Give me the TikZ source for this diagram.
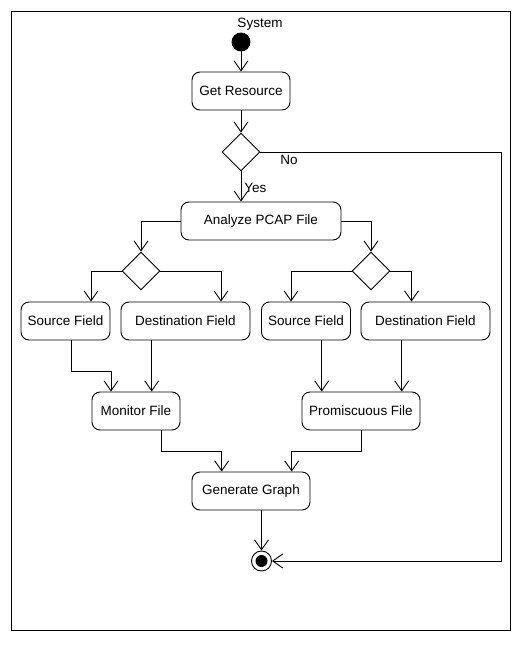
\documentclass[tikz,border=0pt]{standalone}
\usepackage{fontspec}
\setmainfont{Liberation Sans}
\usetikzlibrary{arrows.meta,shapes.geometric}
\begin{document}
\begin{tikzpicture}[x=1pt,y=-1pt,line width=0.9pt,
  font=\fontsize{13.5}{15}\selectfont,
  act/.style={draw,rounded corners=8pt,minimum height=38pt,inner sep=0pt},
  dec/.style={draw,diamond,minimum width=38pt,minimum height=38pt,inner sep=0pt},
  arr/.style={-{Straight Barb[length=10pt,width=14pt]}},
  lbl/.style={inner sep=0pt}]
\useasboundingbox (0,0) rectangle (527,645);
\draw (11,11) rectangle (510,630);
\node[lbl] (sys) at (260,24) {System};
\node[draw,circle,fill=black,minimum size=18pt,inner sep=0pt] (init) at (241,42) {};
\node[act,minimum width=98pt] (gr) at (241,91) {Get Resource};
\node[dec] (d1) at (241,152) {};
\node[act,minimum width=160pt] (an) at (261,221) {Analyze PCAP File};
\node[dec] (d2) at (141,271) {};
\node[dec] (d3) at (371,271) {};
\node[act,minimum width=89pt] (sf1) at (65.5,321) {Source Field};
\node[act,minimum width=129pt] (df1) at (185.5,321) {Destination Field};
\node[act,minimum width=89pt] (sf2) at (306,321) {Source Field};
\node[act,minimum width=129pt] (df2) at (425.5,321) {Destination Field};
\node[act,minimum width=88pt] (mf) at (136,411) {Monitor File};
\node[act,minimum width=118pt] (pf) at (361,411) {Promiscuous File};
\node[act,minimum width=118pt] (gg) at (251,491) {Generate Graph};
\node[draw,circle,minimum size=20pt,inner sep=0pt] (fin) at (261.5,561) {};
\node[circle,fill=black,minimum size=12pt,inner sep=0pt] (finin) at (fin) {};
\coordinate (rt) at (501,0);
\coordinate (r1) at (0,371.7);
\coordinate (r2) at (0,451);
\node[lbl,anchor=west] (yes) at (244,188) {Yes};
\node[lbl,anchor=west] (no) at (280,160) {No};
\draw[arr] (init) -- (gr);
\draw[arr] (gr) -- (d1);
\draw[arr] (d1.south) -- (d1.south |- an.north);
\draw[arr] (d1.east) -| (rt |- fin.east) -- (fin.east);
\draw[arr] (an.west) -| (d2.north);
\draw[arr] (an.east) -| (d3.north);
\draw[arr] (d2.west) -| ([xshift=25.5]sf1.north);
\draw[arr] (d2.east) -| ([xshift=35.5]df1.north);
\draw[arr] (d3.west) -| ([xshift=-15]sf2.north);
\draw[arr] (d3.east) -| ([xshift=-14]df2.north);
\draw[arr] ([xshift=6]sf1.south) coordinate (a1) -- (a1 |- r1) -| ([xshift=-25]mf.north);
\draw[arr] ([xshift=-33.8]df1.south) coordinate (a2) -- (a2 |- mf.north);
\draw[arr] ([xshift=15.7]sf2.south) coordinate (a3) -- (a3 |- pf.north);
\draw[arr] ([xshift=-23.8]df2.south) coordinate (a4) -- (a4 |- pf.north);
\draw[arr] ([xshift=25.7]mf.south) coordinate (a5) -- (a5 |- r2) -| ([xshift=-29.3]gg.north);
\draw[arr] ([xshift=0.7]pf.south) coordinate (a6) -- (a6 |- r2) -| ([xshift=40.7]gg.north);
\draw[arr] ([xshift=10.5]gg.south) -- (fin.north);
\end{tikzpicture}
\end{document}
